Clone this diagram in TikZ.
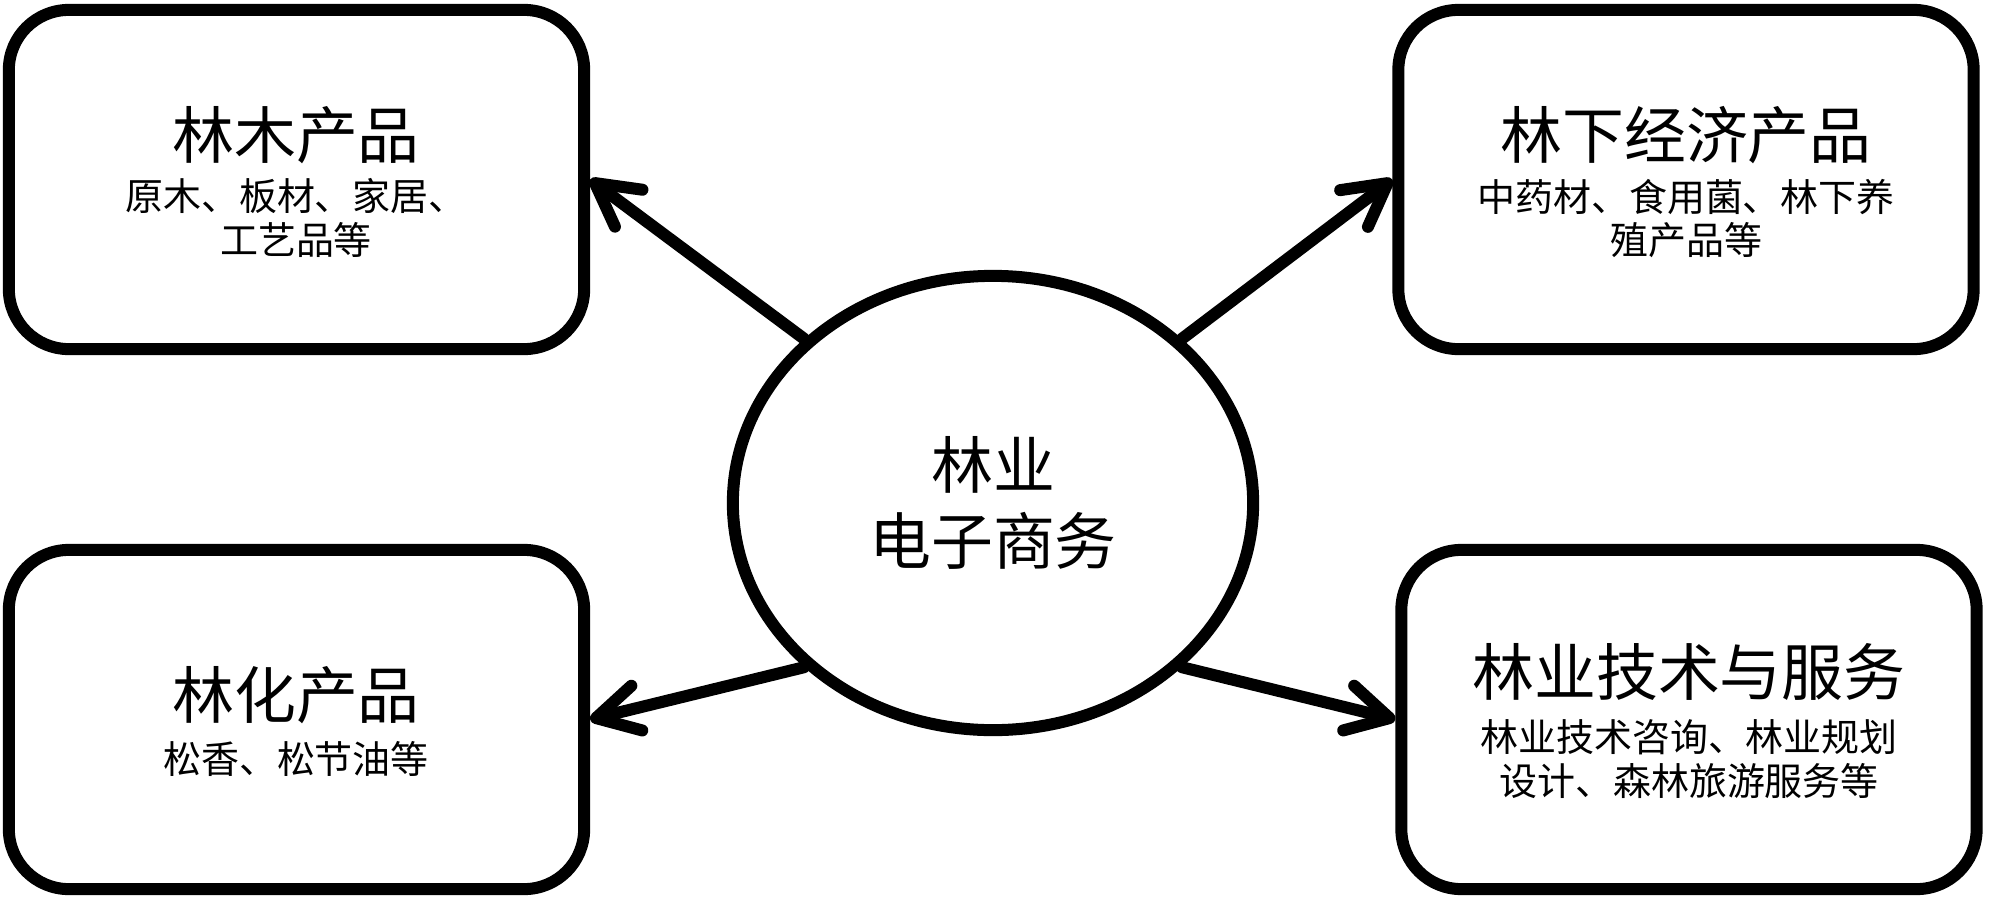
\documentclass[tikz,border=0pt]{standalone}
\usepackage{fontspec}
\newfontfamily\cjk{Noto Sans CJK SC}
\usetikzlibrary{arrows.meta,shapes.geometric}
\begin{document}
\begin{tikzpicture}[x=0.01cm,y=-0.01cm,
  box/.style={draw,line width=0.12cm,rounded corners=0.6cm,minimum width=5.75cm,minimum height=3.39cm,inner sep=0pt},
  hub/.style={draw,ellipse,line width=0.12cm,minimum width=5.2cm,minimum height=4.54cm,inner sep=0pt},
  ttl/.style={font=\cjk\fontsize{17.6}{20}\selectfont,inner sep=0pt},
  sub/.style={font=\cjk\fontsize{10.8}{12.4}\selectfont,align=center,inner sep=0pt},
  link/.style={line width=0.12cm,line cap=round,-{Straight Barb[length=0.42cm,width=0.46cm,round]}}
]
\useasboundingbox (0,0) rectangle (2000,909);
\node[box] (tl) at (296.5,179.5) {};
\node[box] (tr) at (1686,179.5) {};
\node[box] (bl) at (296.5,719.5) {};
\node[box] (br) at (1689,719.5) {};
\node[hub] (c) at (993,503) {};

\node[ttl] (tlt) at (296,135) {林木产品};
\node[sub] (tls) at (296,218) {原木、板材、家居、\\工艺品等};
\node[ttl] (trt) at (1686,135) {林下经济产品};
\node[sub] (trs) at (1686,218.5) {中药材、食用菌、林下养\\殖产品等};
\node[ttl] (blt) at (296,695.5) {林化产品};
\node[sub] (bls) at (296,758.5) {松香、松节油等};
\node[ttl] (brt) at (1689,672) {林业技术与服务};
\node[sub] (brs) at (1689,759) {林业技术咨询、林业规划\\设计、森林旅游服务等};
\node[ttl] (ct1) at (993,465) {林业};
\node[ttl] (ct2) at (993,541) {电子商务};

\draw[link] (c.139) -- (tl.east);
\draw[link] (c.41) -- (tr.west);
\draw[link] (c.221) -- (bl.east);
\draw[link] (c.319) -- (br.west);
\end{tikzpicture}
\end{document}
